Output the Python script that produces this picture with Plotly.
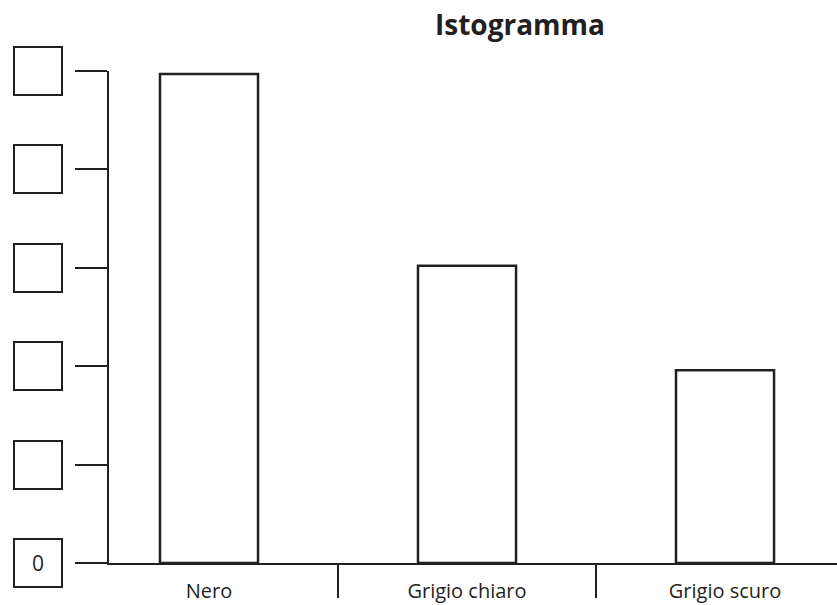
import plotly.graph_objects as go

# ---- data ----
categories = ["Nero", "Grigio chiaro", "Grigio scuro"]
values = [4.97, 3.02, 1.96]
y_tick_values = [0, 1, 2, 3, 4, 5]
y_tick_labels = ["0", "", "", "", "", ""]
title_text = "Istogramma"

INK = "#231f20"
FONT = "Open Sans, Noto Sans, sans-serif"

fig = go.Figure()

fig.add_trace(go.Bar(
    x=categories, y=values, width=0.38,
    marker=dict(color="white", line=dict(color=INK, width=2.5)),
    hoverinfo="skip", showlegend=False,
))

# invisible trace used only to carry the boundary ticks (separators)
fig.add_trace(go.Scatter(
    x=categories, y=values, xaxis="x2", mode="markers",
    marker=dict(opacity=0), hoverinfo="skip", showlegend=False,
))

x_range = [-0.3876, 2.434]

fig.update_layout(
    width=837, height=605,
    margin=dict(l=109, r=0, t=71, b=42),
    paper_bgcolor="white", plot_bgcolor="white",
    title=dict(
        text="<b>" + title_text + "</b>",
        font=dict(family=FONT, size=28, color=INK),
        x=520 / 837, xanchor="center", xref="container",
        y=1 - 15 / 605, yanchor="top", yref="container",
    ),
    xaxis=dict(
        type="category", categoryarray=categories, range=x_range,
        showline=True, linewidth=2, linecolor=INK,
        ticks="", showgrid=False, zeroline=False,
        tickfont=dict(family=FONT, size=20, color=INK),
        ticklabelstandoff=9,
    ),
    xaxis2=dict(
        type="category", categoryarray=categories, range=x_range,
        overlaying="x", anchor="y", side="bottom",
        showline=False, showgrid=False, zeroline=False,
        ticks="outside", tickson="boundaries", ticklen=34, tickwidth=2, tickcolor=INK,
        showticklabels=False,
    ),
    yaxis=dict(
        range=[0, 5], tickvals=y_tick_values, showticklabels=False,
        showline=True, linewidth=2, linecolor=INK,
        ticks="outside", ticklen=32, tickwidth=2, tickcolor=INK,
        showgrid=False, zeroline=False,
    ),
)

# boxes next to each y tick
for v, lab in zip(y_tick_values, y_tick_labels):
    fig.add_annotation(
        xref="paper", x=0, xanchor="right", xshift=-46,
        yref="y", y=v, yanchor="middle",
        text=lab if lab else " ",
        showarrow=False, width=46, height=46,
        bordercolor=INK, borderwidth=2, borderpad=0, bgcolor="white",
        font=dict(family=FONT, size=21, color=INK),
    )

fig.write_html("out.html", config={"displayModeBar": False},
               post_script="document.body.style.margin='0';")
